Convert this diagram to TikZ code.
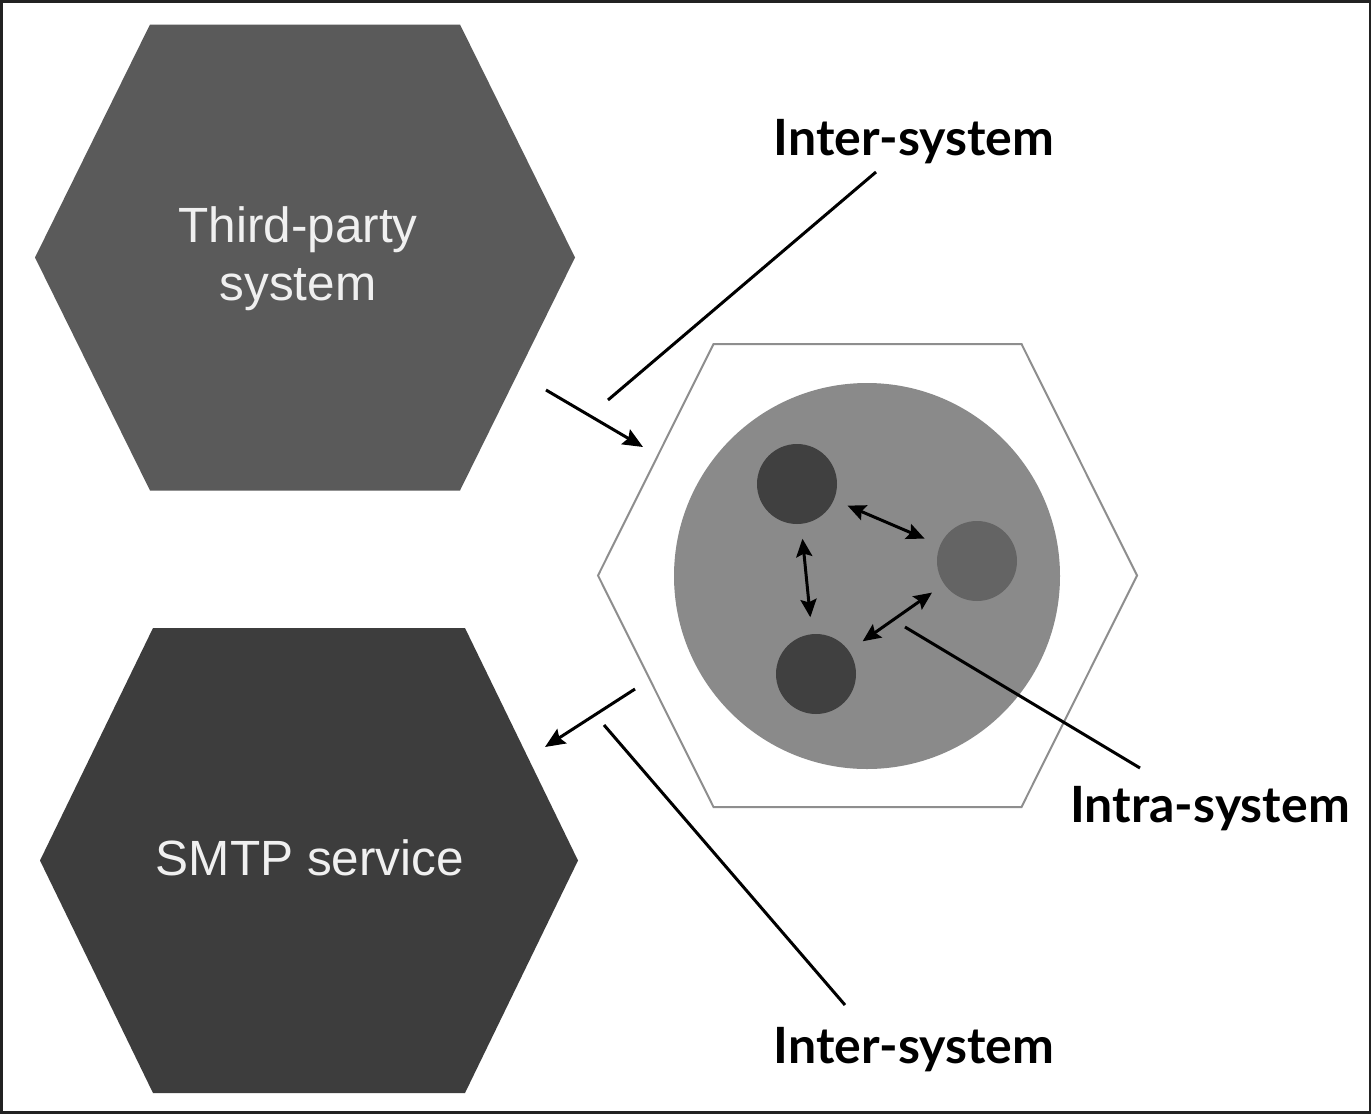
\documentclass[tikz,border=0pt]{standalone}
\usepackage{fontspec}
\setmainfont{Liberation Sans}
\newfontfamily\labelfont{Lato}
\usetikzlibrary{arrows.meta}

\definecolor{hexmid}{HTML}{5A5A5A}
\definecolor{hexdark}{HTML}{3D3D3D}
\definecolor{hexline}{HTML}{8E8E8E}
\definecolor{corefill}{HTML}{8A8A8A}
\definecolor{svcdark}{HTML}{404040}
\definecolor{svcmid}{HTML}{646464}
\definecolor{frame}{HTML}{222222}
\definecolor{hextext}{HTML}{F0F0F0}

\tikzset{
  hextitle/.style={inner sep=0pt, text=hextext, align=center,
    font=\fontsize{49.5}{58}\selectfont},
  svc/.style={circle, minimum size=80pt, inner sep=0pt, outer sep=0pt, draw=none},
  tag/.style={font=\labelfont\bfseries\fontsize{50}{60}\selectfont, anchor=base, inner sep=0pt},
  flow/.style={line width=3pt, -{Stealth[length=20pt,width=17pt,inset=3pt]}},
  leader/.style={line width=3pt},
  talk/.style={line width=3pt,
    {Stealth[length=18pt,width=16pt,inset=3pt]}-{Stealth[length=18pt,width=16pt,inset=3pt]},
    shorten <=15pt, shorten >=17pt},
  % flat-topped hexagon: half top edge #1, half width #2, half height #3
  hexpath/.style n args={3}{insert path={
    ++(-#1,-#3) -- ++(2*#1,0) -- ++(#2-#1,#3) -- ++(#1-#2,#3)
    -- ++(-2*#1,0) -- ++(#1-#2,-#3) -- cycle}},
}

\begin{document}
\begin{tikzpicture}[x=1pt,y=-1pt]
  \useasboundingbox (0,0) rectangle (1371,1114);
  \fill[white] (0,0) rectangle (1371,1114);
  \draw[frame, line width=2.5pt] (1.25,1.25) rectangle (1369.75,1112.5);

  % outer systems
  \coordinate (thirdC) at (305,257.5);
  \coordinate (smtpC) at (309,860.5);
  \fill[hexmid] (thirdC) [hexpath={155}{270}{233}];
  \fill[hexdark] (smtpC) [hexpath={156}{269}{232.5}];
  \node[hextitle] (third) at (298,259) {Third-party\\system};
  \node[hextitle] (smtp) at (310,858) {SMTP service};

  % the system itself, with its services inside
  \coordinate (sysC) at (867.5,575.5);
  \draw[hexline, line width=2pt] (sysC) [hexpath={154}{269.5}{231.5}];
  \node[circle, minimum size=386pt, inner sep=0pt, fill=corefill] (core) at (867,576) {};
  \node[svc, fill=svcdark] (s1) at (797,484) {};
  \node[svc, fill=svcmid] (s2) at (977,561) {};
  \node[svc, fill=svcdark] (s3) at (816,674) {};

  % communication between services
  \draw[talk] (s1) -- (s2);
  \draw[talk] (s1) -- (s3);
  \draw[talk] (s2) -- (s3);

  % communication between systems
  \coordinate (inA) at (546,390);
  \coordinate (inB) at (643,447);
  \coordinate (outA) at (635,689);
  \coordinate (outB) at (545,747);
  \draw[flow] (inA) -- (inB);
  \draw[flow] (outA) -- (outB);

  % labels and their leaders
  \node[tag] (interTop) at (914,155) {Inter-system};
  \node[tag] (intra) at (1210,822) {Intra-system};
  \node[tag] (interBot) at (914,1063) {Inter-system};

  \coordinate (topEnd) at (876,172);
  \coordinate (topTip) at (608,400);
  \coordinate (intraEnd) at (1140,768);
  \coordinate (intraTip) at (905,627);
  \coordinate (botEnd) at (845,1005);
  \coordinate (botTip) at (604,725);
  \draw[leader] (topEnd) -- (topTip);
  \draw[leader] (intraEnd) -- (intraTip);
  \draw[leader] (botEnd) -- (botTip);
\end{tikzpicture}
\end{document}
